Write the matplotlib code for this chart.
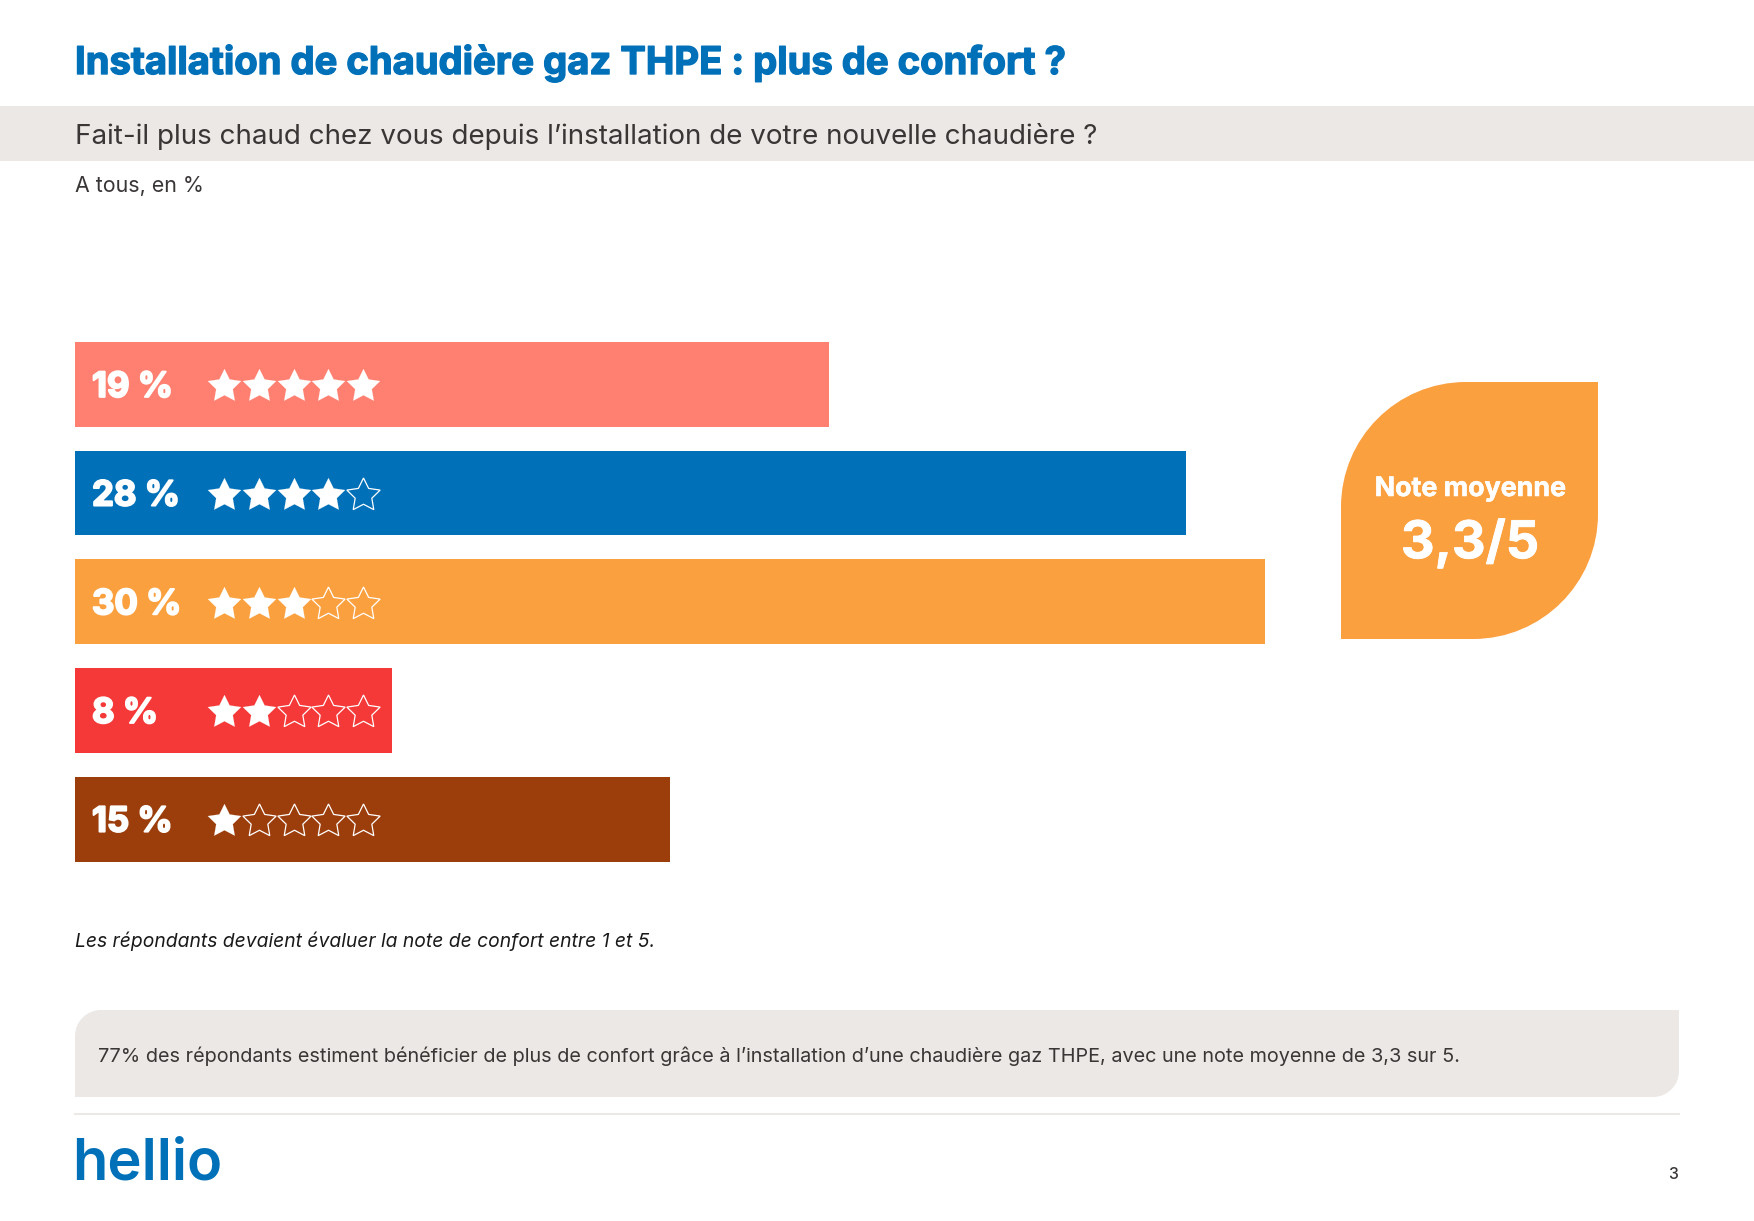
import matplotlib
matplotlib.use("Agg")
import matplotlib.pyplot as plt
from matplotlib.patches import PathPatch, Rectangle
from matplotlib.path import Path
from matplotlib.transforms import blended_transform_factory, Affine2D
import matplotlib.patheffects as pe

W, H = 1754, 1221

# Data
shares = [19, 28, 30, 8, 15]
ratings = [5, 4, 3, 2, 1]
share_labels = ["19 %", "28 %", "30 %", "8 %", "15 %"]
bar_colors = ["#FF8070", "#0070B8", "#FBA03E", "#F53838", "#9C3D0C"]
max_stars = 5

title = "Installation de chaudière gaz THPE : plus de confort ?"
subtitle = "Fait-il plus chaud chez vous depuis l’installation de votre nouvelle chaudière ?"
base_note = "A tous, en %"
foot_note = "Les répondants devaient évaluer la note de confort entre 1 et 5."
summary = ("77% des répondants estiment bénéficier de plus de confort grâce à "
           "l’installation d’une chaudière gaz THPE, avec une note moyenne de 3,3 sur 5.")
badge_title = "Note moyenne"
badge_value = "3,3/5"

BLUE = "#0070B8"
ORANGE = "#FBA03E"
GREY = "#ECE8E5"
DARK = "#3A3636"
HEAD = "Inter"
BODY = "Inter"

def heavy(width, color):
    return [pe.withStroke(linewidth=width, foreground=color)]

def corner_path(x0, y0, x1, y1, tl=0, tr=0, br=0, bl=0):
    """Closed rectangle in y-down pixels, with a radius per corner."""
    k = 0.5523
    v = [(x0 + tl, y0), (x1 - tr, y0)]
    c = [Path.MOVETO, Path.LINETO]
    if tr:
        v += [(x1 - tr + k * tr, y0), (x1, y0 + tr - k * tr), (x1, y0 + tr)]
        c += [Path.CURVE4] * 3
    v.append((x1, y1 - br)); c.append(Path.LINETO)
    if br:
        v += [(x1, y1 - br + k * br), (x1 - br + k * br, y1), (x1 - br, y1)]
        c += [Path.CURVE4] * 3
    v.append((x0 + bl, y1)); c.append(Path.LINETO)
    if bl:
        v += [(x0 + bl - k * bl, y1), (x0, y1 - bl + k * bl), (x0, y1 - bl)]
        c += [Path.CURVE4] * 3
    v.append((x0, y0 + tl)); c.append(Path.LINETO)
    if tl:
        v += [(x0, y0 + tl - k * tl), (x0 + tl - k * tl, y0), (x0 + tl, y0)]
        c += [Path.CURVE4] * 3
    v.append((x0 + tl, y0)); c.append(Path.CLOSEPOLY)
    return Path(v, c)

fig = plt.figure(figsize=(W / 100, H / 100), dpi=100, facecolor="white")

page = fig.add_axes([0, 0, 1, 1])
page.set_xlim(0, W); page.set_ylim(H, 0); page.axis("off")

# Header
page.text(75, 74, title, family=HEAD, weight="bold", fontsize=27.5, color=BLUE, va="baseline",
          path_effects=heavy(1.0, BLUE))
page.add_patch(Rectangle((0, 106), W, 55, fc=GREY, ec="none"))
page.text(75, 134, subtitle, family=BODY, fontsize=20.0, color=DARK, va="center_baseline")
page.text(75, 184, base_note, family=BODY, fontsize=15.4, color=DARK, va="center_baseline")

# Bars
chart = fig.add_axes([75 / W, 1 - 861.5 / H, (1265 - 75) / W, (861.5 - 342) / H])
chart.patch.set_alpha(0)
chart.barh(range(len(shares)), shares, height=0.78, color=bar_colors)
chart.set_xlim(0, 30)
chart.set_ylim(len(shares) - 1 + 0.39, -0.39)
chart.axis("off")

px_y = blended_transform_factory(page.transData, chart.transData)
star_shift = px_y + Affine2D().translate(0, -2)
for row, (label, rating) in enumerate(zip(share_labels, ratings)):
    chart.text(92, row, label, transform=px_y, family=HEAD, weight="bold",
               fontsize=25, color="white", va="center_baseline",
               path_effects=heavy(1.4, "white"))
    for s in range(max_stars):
        filled = s < rating
        chart.plot(224 + 34.8 * s, row, marker=(5, 1, 0), ms=25.2, transform=star_shift,
                   mfc="white" if filled else "none", mec="white",
                   mew=0.1 if filled else 0.9, clip_on=False, ls="none")

# Badge
page.add_patch(PathPatch(corner_path(1341, 382, 1598, 639, tl=125, br=125), fc=ORANGE, ec="none"))
page.text(1470, 486, badge_title, family=HEAD, weight="bold", fontsize=19.3,
          color="white", ha="center", va="center_baseline", path_effects=heavy(0.4, "white"))
page.text(1470, 539, badge_value, family=HEAD, weight="bold", fontsize=37.5,
          color="white", ha="center", va="center_baseline", path_effects=heavy(0.6, "white"))

# Footer
page.text(75, 939, foot_note, family=BODY, style="italic", fontsize=13.9, color="#1A1A1A",
          va="center_baseline")
page.add_patch(PathPatch(corner_path(75, 1010, 1679, 1097, tl=26, br=26), fc=GREY, ec="none"))
page.text(98, 1054, summary, family=BODY, fontsize=14.27, color=DARK, va="center_baseline")
page.plot([75, 1679], [1113.5, 1113.5], color=GREY, lw=1.5)
page.text(72, 1179, "hellio", family="Inter", weight="semibold", fontsize=41.7, color=BLUE, va="baseline")
page.text(1678, 1173, "3", family=BODY, weight="medium", fontsize=11.5, color=DARK, ha="right", va="center_baseline")

fig.savefig("out.png", dpi=100)
